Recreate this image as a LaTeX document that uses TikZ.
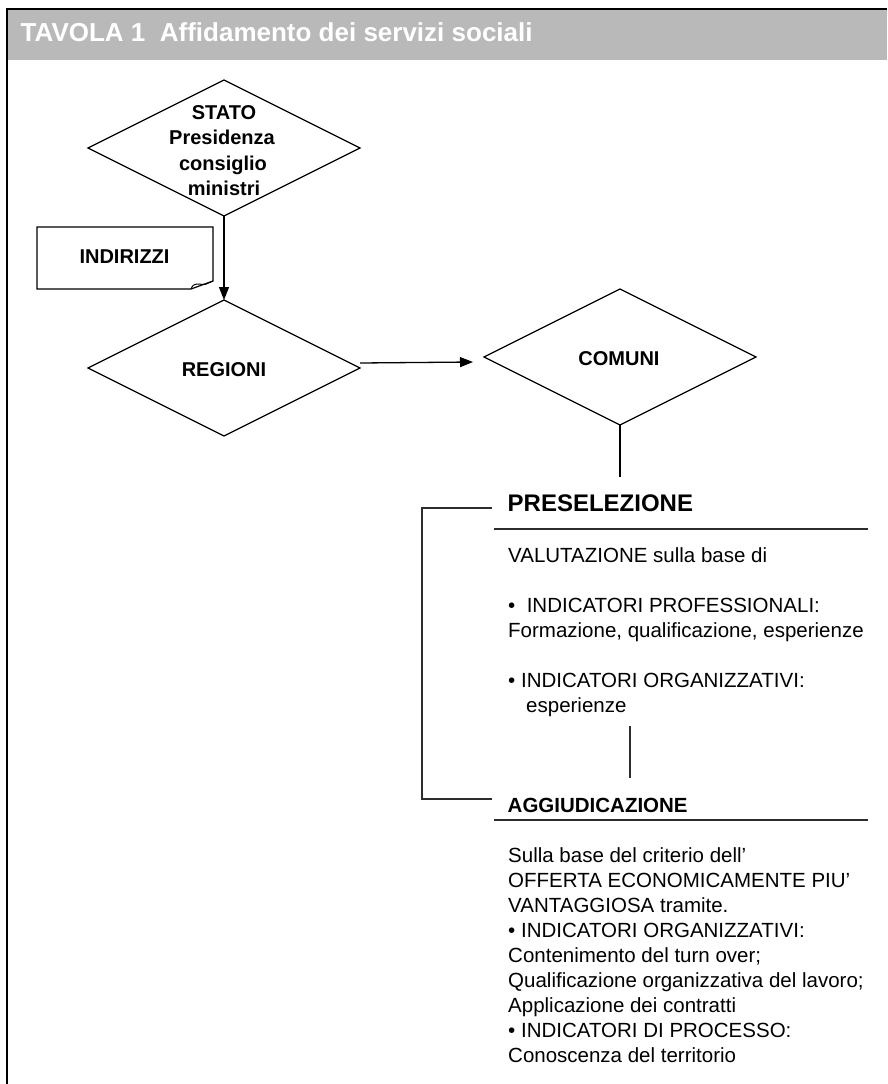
\documentclass[tikz,border=0pt]{standalone}
\usepackage{fontspec}
\setmainfont{Liberation Sans}
\usetikzlibrary{shapes.geometric,arrows.meta}
\definecolor{hdr}{RGB}{185,185,185}
\definecolor{ln}{RGB}{45,45,45}
\begin{document}
\begin{tikzpicture}[x=1pt,y=-1pt,
  dia/.style={draw,shape=diamond,minimum width=272pt,minimum height=136pt,inner sep=0pt,outer sep=0pt,line width=1.3pt},
  btext/.style={font=\fontsize{20}{25}\selectfont\bfseries,inner sep=0pt,anchor=base},
  body/.style={font=\fontsize{20.5}{25}\selectfont,inner sep=0pt,anchor=base west},
  rulel/.style={draw=ln,line width=1.2pt},
  arr/.style={line width=1.3pt,-{Triangle[width=10pt,length=13pt]}}]
\useasboundingbox (0,0) rectangle (887,1084);
% header and frame
\fill[hdr] (8,10) rectangle (887,60);
\draw[line width=2.5pt] (887,9) -- (7,9) -- (7,1084);
\node[anchor=base west,inner sep=0pt,text=white,font=\fontsize{26}{30}\selectfont\bfseries] (title) at (20.5,41) {TAVOLA 1\ \ Affidamento dei servizi sociali};
% diamonds
\node[dia] (stato) at (224,148) {};
\node[dia] (regioni) at (224,368) {};
\node[dia] (comuni) at (620,357) {};
\node[btext] (st1) at (224,119) {STATO};
\node[btext] (st2) at (222,144.5) {Presidenza};
\node[btext] (st3) at (223,170) {consiglio};
\node[btext] (st4) at (224,195.5) {ministri};
\node[btext] (regt) at (224,376) {REGIONI};
\node[btext] (comt) at (619,365) {COMUNI};
% INDIRIZZI note
\draw[line width=1.2pt] (37,227) -- (213,227) -- (213,281) -- (191,289) -- (37,289) -- cycle;
\draw[line width=1pt] (191,289) .. controls (193,285) .. (197,284) -- (205,284.5) -- (213,281);
\node[btext] (ind) at (124.5,263) {INDIRIZZI};
% connectors
\draw[arr] (stato.south) -- (regioni.north);
\coordinate (rend) at (473,362);
\draw[arr] ([yshift=5pt]regioni.east) -- (rend);
\coordinate (cend) at (620,477);
\draw[line width=1.2pt] (comuni.south) -- (cend);
% PRESELEZIONE block
\node[anchor=base west,inner sep=0pt,font=\fontsize{24}{28}\selectfont\bfseries] (pre) at (507.5,511) {PRESELEZIONE};
\draw[rulel] (494,529) -- (868,529);
\node[body] (p1) at (508,562) {VALUTAZIONE sulla base di};
\node[body] (p2) at (508,612) {•\ \ INDICATORI PROFESSIONALI:};
\node[body] (p3) at (508,637) {Formazione, qualificazione, esperienze};
\node[body] (p4) at (508,687) {• INDICATORI ORGANIZZATIVI:};
\node[body] (p5) at (526,712) {esperienze};
\coordinate (v1) at (630,726);
\coordinate (v2) at (630,778);
\draw[rulel] (v1) -- (v2);
% bracket
\coordinate (bt) at (492,508);
\coordinate (bb) at (492,799);
\draw[rulel] (bt) -- (422,508) -- (422,799) -- (bb);
% AGGIUDICAZIONE block
\node[anchor=base west,inner sep=0pt,font=\fontsize{20.5}{25}\selectfont\bfseries] (agg) at (507.5,812) {AGGIUDICAZIONE};
\draw[rulel] (494,820) -- (868,820);
\node[body] (a1) at (508,862) {Sulla base del criterio dell’};
\node[body] (a2) at (508,887) {OFFERTA ECONOMICAMENTE PIU’};
\node[body] (a3) at (508,912) {VANTAGGIOSA tramite.};
\node[body] (a4) at (508,937) {• INDICATORI ORGANIZZATIVI:};
\node[body] (a5) at (508,962) {Contenimento del turn over;};
\node[body] (a6) at (508,987) {Qualificazione organizzativa del lavoro;};
\node[body] (a7) at (508,1012) {Applicazione dei contratti};
\node[body] (a8) at (508,1037) {• INDICATORI DI PROCESSO:};
\node[body] (a9) at (508,1062) {Conoscenza del territorio};
\end{tikzpicture}
\end{document}
